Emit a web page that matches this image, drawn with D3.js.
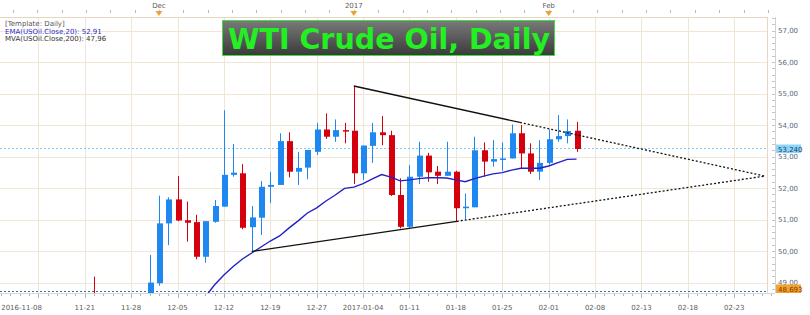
<!DOCTYPE html>
<html>
<head>
<meta charset="utf-8">
<script src="https://cdn.jsdelivr.net/npm/d3@7"></script>
<style>
	body { margin: 0; background: #fff; }
	svg { display: block; font-family: 'DejaVu Sans', Verdana, sans-serif; }
</style>
</head>
<body>
<div id="chart"></div>
<script>
// trading days shown, slot 0 = 2016-11-22
const barDates = [
	'11-22', '11-23', '11-24', '11-25', '11-28', '11-29', '11-30', '12-01', '12-02', '12-05',
	'12-06', '12-07', '12-08', '12-09', '12-12', '12-13', '12-14', '12-15', '12-16', '12-19',
	'12-20', '12-21', '12-22', '12-23', '12-27', '12-28', '12-29', '12-30', '01-03', '01-04',
	'01-05', '01-06', '01-09', '01-10', '01-11', '01-12', '01-13', '01-16', '01-17', '01-18',
	'01-19', '01-20', '01-23', '01-24', '01-25', '01-26', '01-27', '01-30', '01-31', '02-01',
	'02-02', '02-03', '02-06'
];
const opens = [
	48.30, 47.90, 47.90, 47.50, 46.10, 47.10, 45.30, 48.98, 50.88, 51.64,
	50.98, 50.92, 49.82, 50.93, 51.41, 52.42, 52.47, 50.76, 51.06, 52.04,
	52.10, 53.49, 52.52, 52.65, 53.15, 53.86, 53.63, 53.84, 53.82, 52.47,
	53.34, 53.77, 53.68, 51.78, 50.77, 52.36, 53.03, 52.52, 52.39, 52.52,
	51.36, 51.39, 53.20, 52.84, 52.90, 52.94, 53.74, 53.10, 52.52, 52.80,
	53.55, 53.65, 53.82
];
const highs = [
	49.19, 48.20, 48.10, 47.60, 47.30, 47.20, 49.88, 51.76, 51.71, 52.38,
	51.57, 51.15, 50.95, 51.62, 54.47, 53.40, 52.76, 51.43, 52.22, 52.52,
	53.74, 53.77, 53.15, 53.21, 54.07, 54.37, 54.18, 54.07, 55.24, 53.35,
	54.07, 54.29, 53.82, 52.31, 52.73, 53.47, 53.12, 52.70, 53.47, 52.55,
	51.83, 53.63, 53.45, 53.52, 53.45, 54.02, 54.00, 53.42, 53.52, 53.86,
	54.32, 54.18, 54.10
];
const lows = [
	47.60, 47.30, 47.20, 45.80, 45.40, 44.80, 45.10, 48.90, 50.19, 50.95,
	50.30, 49.74, 49.63, 50.90, 51.41, 52.36, 50.69, 49.98, 50.51, 51.52,
	52.10, 52.34, 52.10, 52.28, 53.05, 53.56, 53.47, 53.42, 52.13, 52.26,
	52.80, 53.36, 51.75, 50.72, 50.72, 52.13, 52.20, 52.13, 52.39, 50.93,
	51.00, 51.39, 52.36, 52.68, 52.55, 52.94, 52.63, 52.45, 52.26, 52.75,
	53.47, 53.42, 53.15
];
const closes = [
	47.90, 47.96, 47.50, 46.10, 47.10, 45.20, 49.00, 50.88, 51.64, 50.97,
	50.90, 49.82, 50.95, 51.43, 52.42, 52.49, 50.74, 51.07, 52.04, 52.10,
	53.49, 52.52, 52.64, 53.21, 53.86, 53.63, 53.84, 53.80, 52.47, 53.35,
	53.77, 53.68, 51.78, 50.77, 52.36, 53.03, 52.50, 52.39, 52.52, 51.36,
	51.41, 53.20, 52.84, 52.92, 52.94, 53.74, 53.10, 52.52, 52.80, 53.55,
	53.65, 53.81, 53.24
];

// EMA(20) values, starting at slot 12
const emaStartSlot = 12;
const ema20 = [
	48.55, 48.93, 49.24, 49.51, 49.75, 49.94, 50.13, 50.32, 50.48, 50.73,
	50.96, 51.21, 51.37, 51.59, 51.78, 51.99, 52.03, 52.14, 52.29, 52.43,
	52.35, 52.23, 52.26, 52.30, 52.33, 52.33, 52.32, 52.26, 52.20, 52.30,
	52.38, 52.45, 52.49, 52.57, 52.63, 52.63, 52.63, 52.70, 52.81, 52.91,
	52.92
];

// triangle drawn on the chart: [slot, price] start, apex and where the solid part stops
const upperTrend = [[28, 55.24], [72.3, 52.38]];
const lowerTrend = [[17, 49.99], [72.3, 52.38]];
const upperSolidEnd = 45.9;
const lowerSolidEnd = 39.1;

const bottomTickSlots = [-1, 4, 9, 14, 19, 24, 29, 34, 39, 44, 49, 54, 59, 64, 69];
const bottomTickLabels = ['11-21', '11-28', '12-05', '12-12', '12-19', '12-27', '2017-01-04',
	'01-11', '01-18', '01-25', '02-01', '02-08', '02-13', '02-18', '02-23'];
const firstDateLabel = '2016-11-08';
const monthSlots = [7, 28, 49];
const monthLabels = ['Dec', '2017', 'Feb'];
const priceTicks = [49, 50, 51, 52, 53, 54, 55, 56, 57];
const lastPrice = 53.240;
const lowMark = 48.693;
const legendLines = ['[Template: Daily]', 'EMA(USOil.Close,20): 52,91', 'MVA(USOil.Close,200): 47,96'];
const titleText = 'WTI Crude Oil, Daily';

class CandleChart {
	constructor(parentContainer) {
		this.parentContainer = parentContainer;

		this.dimensions = {
			width: 810,
			height: 315,
			plot: { left: 0, right: 768, top: 17, bottom: 293 },
			axisX: 775,
			barWidth: 6,
		};

		this.colors = {
			up: '#1e88f0',
			down: '#d4000e',
			grid: '#f1e6d6',
			frame: '#e6d6bf',
			axisText: '#60677f',
			ema: '#2222c4',
		};

		const p = this.dimensions.plot;
		this.x = d3.scaleLinear().domain([-10, 73]).range([1.2, 771.4]);
		this.y = d3.scaleLinear().domain([48.67, 57.43]).range([p.bottom, p.top]);

		this._createVis();
		this._drawGrid();
		this._drawAxes();
		this._drawMarkers();
		this._drawCandles();
		this._drawEma();
		this._drawTrendLines();
		this._drawLegend();
		this._drawTitle();
	}

	/** Helper method. Creates the svg and the clip of the plot area. */
	_createVis() {
		const p = this.dimensions.plot;
		this.svg = this.parentContainer.append('svg')
			.attr('width', this.dimensions.width)
			.attr('height', this.dimensions.height);

		this.svg.append('clipPath').attr('id', 'plot-clip')
			.append('rect')
			.attr('x', p.left)
			.attr('y', p.top)
			.attr('width', p.right - p.left)
			.attr('height', p.bottom - p.top);

		this.gridGroup = this.svg.append('g');
		this.plotGroup = this.svg.append('g').attr('clip-path', 'url(#plot-clip)');
		this.axisGroup = this.svg.append('g');
	}

	/** Helper method. Price and date grid lines plus the frame. */
	_drawGrid() {
		const p = this.dimensions.plot;
		const x = this.x;
		const y = this.y;

		this.gridGroup.selectAll('.hgrid')
			.data(priceTicks)
			.enter()
			.append('line')
			.attr('x1', p.left)
			.attr('x2', p.right)
			.attr('y1', d => Math.round(y(d)) + 0.5)
			.attr('y2', d => Math.round(y(d)) + 0.5)
			.attr('stroke', this.colors.grid);

		this.gridGroup.selectAll('.vgrid')
			.data([-6].concat(bottomTickSlots))
			.enter()
			.append('line')
			.attr('x1', d => Math.round(x(d)) + 0.5)
			.attr('x2', d => Math.round(x(d)) + 0.5)
			.attr('y1', p.top)
			.attr('y2', p.bottom)
			.attr('stroke', this.colors.grid);

		// frame
		this.gridGroup.append('line')
			.attr('x1', p.left).attr('x2', p.right)
			.attr('y1', p.top + 0.5).attr('y2', p.top + 0.5)
			.attr('stroke', this.colors.frame);
		this.gridGroup.append('line')
			.attr('x1', p.right - 0.5).attr('x2', p.right - 0.5)
			.attr('y1', p.top).attr('y2', p.bottom)
			.attr('stroke', this.colors.frame);
	}

	/** Helper method. Bottom date axis, top month axis and right price axis. */
	_drawAxes() {
		const p = this.dimensions.plot;
		const ax = this.dimensions.axisX;
		const x = this.x;
		const y = this.y;
		const g = this.axisGroup;

		// bottom: one tick per bar slot
		g.selectAll('.minor-x')
			.data(d3.range(-10, 74))
			.enter()
			.append('line')
			.attr('x1', d => Math.round(x(d)) + 0.5)
			.attr('x2', d => Math.round(x(d)) + 0.5)
			.attr('y1', p.bottom)
			.attr('y2', d => (d + 6) % 5 === 0 ? p.bottom + 5 : p.bottom + 3)
			.attr('stroke', '#b4b4b4');

		g.append('line')
			.attr('x1', p.left).attr('x2', ax)
			.attr('y1', p.bottom + 0.5).attr('y2', p.bottom + 0.5)
			.attr('stroke', '#d6d6d6');

		g.selectAll('.x-label')
			.data(bottomTickSlots)
			.enter()
			.append('text')
			.attr('x', d => x(d))
			.attr('y', 310)
			.attr('text-anchor', 'middle')
			.attr('font-size', 7)
			.attr('fill', '#5c5c5c')
			.text((d, i) => bottomTickLabels[i]);

		g.append('text')
			.attr('x', x(-10))
			.attr('y', 310)
			.attr('font-size', 7)
			.attr('fill', '#5c5c5c')
			.text(firstDateLabel);

		// top: month markers and small ticks
		g.selectAll('.minor-top')
			.data(d3.range(monthSlots[0] - 2.625 * 6, 73, 2.625))
			.enter()
			.append('line')
			.attr('x1', d => Math.round(x(d)) + 0.5)
			.attr('x2', d => Math.round(x(d)) + 0.5)
			.attr('y1', 10)
			.attr('y2', 13)
			.attr('stroke', '#b8b8b8');

		g.selectAll('.month-label')
			.data(monthSlots)
			.enter()
			.append('text')
			.attr('x', d => x(d))
			.attr('y', 8)
			.attr('text-anchor', 'middle')
			.attr('font-size', 7)
			.attr('fill', '#5c5c5c')
			.text((d, i) => monthLabels[i]);

		g.selectAll('.month-mark')
			.data(monthSlots)
			.enter()
			.append('path')
			.attr('d', d => `M${x(d) - 3.5},11 L${x(d) + 3.5},11 L${x(d)},16 Z`)
			.attr('fill', '#f0a030');

		// right price axis
		g.append('line')
			.attr('x1', ax + 0.5).attr('x2', ax + 0.5)
			.attr('y1', p.top).attr('y2', p.bottom)
			.attr('stroke', '#d2d2d2');

		g.selectAll('.minor-y')
			.data(d3.range(48.8, 57.41, 0.2))
			.enter()
			.append('line')
			.attr('x1', ax - 3)
			.attr('x2', ax)
			.attr('y1', d => Math.round(y(d)) + 0.5)
			.attr('y2', d => Math.round(y(d)) + 0.5)
			.attr('stroke', '#c4c4c4');

		g.selectAll('.y-label')
			.data(priceTicks)
			.enter()
			.append('text')
			.attr('x', ax + 3)
			.attr('y', d => y(d) + 2.5)
			.attr('font-size', 7)
			.attr('fill', this.colors.axisText)
			.text(d => d3.format('.2f')(d).replace('.', ','));
	}

	/** Helper method. Last price and low marker lines with their tags. */
	_drawMarkers() {
		const p = this.dimensions.plot;
		const ax = this.dimensions.axisX;
		const y = this.y;

		const marks = [
			{ value: lastPrice, line: '#7ccbec', bg: '#8fd6f6', text: '#123a6c' },
			{ value: lowMark, line: '#3d6f9f', bg: '#f2a52c', text: '#8a3200' },
		];

		this.plotGroup.selectAll('.mark-line')
			.data(marks)
			.enter()
			.append('line')
			.attr('x1', p.left)
			.attr('x2', p.right)
			.attr('y1', d => Math.round(y(d.value)) - 0.5)
			.attr('y2', d => Math.round(y(d.value)) - 0.5)
			.attr('stroke', d => d.line)
			.attr('stroke-dasharray', '2,2');

		const tags = this.axisGroup.selectAll('.mark-tag')
			.data(marks)
			.enter()
			.append('g')
			.attr('transform', d => `translate(${ax + 1}, ${Math.min(y(d.value), p.bottom - 4)})`);

		tags.append('rect')
			.attr('x', 0)
			.attr('y', -4.5)
			.attr('width', 25)
			.attr('height', 8.5)
			.attr('fill', d => d.bg);

		tags.append('text')
			.attr('x', 2)
			.attr('y', 2.5)
			.attr('font-size', 7)
			.attr('fill', d => d.text)
			.text(d => d3.format('.3f')(d.value).replace('.', ','));
	}

	/** Helper method. Draws the daily candles. */
	_drawCandles() {
		const x = this.x;
		const y = this.y;
		const w = this.dimensions.barWidth;
		const bars = barDates.map((d, i) => ({
			date: d, slot: i, o: opens[i], h: highs[i], l: lows[i], c: closes[i],
		}));

		const candle = this.plotGroup.selectAll('.candle')
			.data(bars)
			.enter()
			.append('g')
			.attr('fill', d => d.c >= d.o ? this.colors.up : this.colors.down)
			.attr('stroke', d => d.c >= d.o ? this.colors.up : this.colors.down);

		candle.append('line')
			.attr('x1', d => Math.round(x(d.slot)) + 0.5)
			.attr('x2', d => Math.round(x(d.slot)) + 0.5)
			.attr('y1', d => y(d.h))
			.attr('y2', d => y(d.l));

		candle.append('rect')
			.attr('stroke', 'none')
			.attr('x', d => Math.round(x(d.slot)) - w / 2 + 1)
			.attr('y', d => y(Math.max(d.o, d.c)))
			.attr('width', w)
			.attr('height', d => Math.max(1.5, Math.abs(y(d.o) - y(d.c))));
	}

	/** Helper method. EMA(20) line. */
	_drawEma() {
		const line = d3.line()
			.x((d, i) => this.x(emaStartSlot + i))
			.y(d => this.y(d));

		this.plotGroup.append('path')
			.attr('d', line(ema20))
			.attr('fill', 'none')
			.attr('stroke', this.colors.ema)
			.attr('stroke-width', 1.4);
	}

	/** Helper method. The converging triangle: solid part, then dotted to the apex. */
	_drawTrendLines() {
		const x = this.x;
		const y = this.y;
		const pointAt = (trend, slot) => {
			const t = (slot - trend[0][0]) / (trend[1][0] - trend[0][0]);
			return [slot, d3.interpolateNumber(trend[0][1], trend[1][1])(t)];
		};

		[[upperTrend, upperSolidEnd], [lowerTrend, lowerSolidEnd]].forEach(([trend, solidEnd]) => {
			const mid = pointAt(trend, solidEnd);
			const parts = [[trend[0], mid, null], [mid, trend[1], '2,2']];
			parts.forEach(([a, b, dash]) => {
				this.plotGroup.append('line')
					.attr('x1', x(a[0]))
					.attr('y1', y(a[1]))
					.attr('x2', x(b[0]))
					.attr('y2', y(b[1]))
					.attr('stroke', '#111')
					.attr('stroke-width', 1.3)
					.attr('stroke-dasharray', dash);
			});
		});
	}

	/** Helper method. Template / indicator legend in the top left. */
	_drawLegend() {
		const fills = ['#555', '#2a2ac8', '#333'];
		this.axisGroup.selectAll('.legend')
			.data(legendLines)
			.enter()
			.append('text')
			.attr('x', 5)
			.attr('y', (d, i) => 26 + i * 7.6)
			.attr('font-size', 7)
			.attr('fill', (d, i) => fills[i])
			.text(d => d);
	}

	/** Helper method. The big green title badge. */
	_drawTitle() {
		const defs = this.svg.append('defs');
		const grad = defs.append('linearGradient')
			.attr('id', 'title-bg')
			.attr('x1', 0).attr('y1', 0).attr('x2', 0).attr('y2', 1);
		grad.append('stop').attr('offset', '0%').attr('stop-color', '#7a7a7a');
		grad.append('stop').attr('offset', '100%').attr('stop-color', '#3a3a3a');

		const g = this.axisGroup.append('g');
		g.append('rect')
			.attr('x', 222.5)
			.attr('y', 20.5)
			.attr('width', 332)
			.attr('height', 35)
			.attr('fill', 'url(#title-bg)')
			.attr('stroke', '#3ee03e')
			.attr('stroke-width', 1);

		g.append('text')
			.attr('x', 389)
			.attr('y', 48.5)
			.attr('text-anchor', 'middle')
			.attr('font-size', 27.5)
			.attr('font-weight', 'bold')
			.attr('fill', '#22f022')
			.attr('textLength', 322)
			.attr('lengthAdjust', 'spacingAndGlyphs')
			.text(titleText);
	}
}

new CandleChart(d3.select('#chart'));
</script>
</body>
</html>
